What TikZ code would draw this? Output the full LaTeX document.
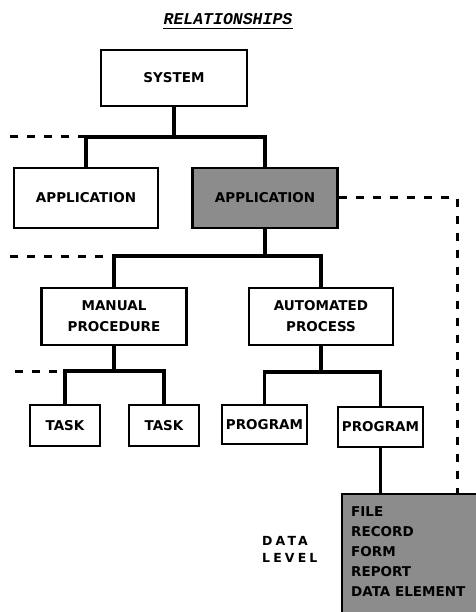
\documentclass[tikz,border=0pt]{standalone}
\usepackage{fontspec}
\setmainfont{DejaVu Sans}
\newfontfamily\titlefont{Liberation Mono}
\usetikzlibrary{positioning}

\begin{document}
\begin{tikzpicture}[x=1pt,y=-1pt]
    %
    % `block' is used for the plain boxes, `shaded' for the grey ones.
    % `link' is the solid tree line, `dashlink' the dashed one.
    \tikzstyle{block} = [draw,line width=2.4pt,fill=white,inner sep=0pt,align=center,font=\fontsize{13.5}{21}\selectfont\bfseries]
    \tikzstyle{shaded} = [block,fill=black!45]
    \tikzstyle{link} = [line width=3.8pt]
    \tikzstyle{dashlink} = [line width=3pt,dash pattern=on 8pt off 9pt]
    \useasboundingbox (0,0) rectangle (475,612);
    %
    % Title
    \node[inner sep=0pt,font=\titlefont\bfseries\itshape\fontsize{16.5}{18}\selectfont] (title) at (228,19) {RELATIONSHIPS};
    \draw[line width=1.4pt] ([yshift=-4pt]title.south west) -- ([yshift=-4pt]title.south east);
    %
    % System
    \node[block,minimum width=146pt,minimum height=56pt] (system) at (174,78) {SYSTEM};
    %
    % Applications
    \node[block,minimum width=144pt,minimum height=60pt] (app1) at (86,198) {APPLICATION};
    \node[shaded,minimum width=145pt,minimum height=60pt] (app2) at (265,198) {APPLICATION};
    \coordinate (bus1) at (174,137);
    \coordinate (edge1) at (10,137);
    \draw[link] (system.south) -- (bus1);
    \draw[link] (app1.north) |- (bus1) -| (app2.north);
    \draw[dashlink] (edge1) -- (app1.north |- bus1);
    %
    % Procedure and process
    \node[block,minimum width=145pt,minimum height=57pt] (manual) at (114,316.5) {MANUAL\\PROCEDURE};
    \node[block,minimum width=144pt,minimum height=57pt] (auto) at (321,316.5) {AUTOMATED\\PROCESS};
    \coordinate (bus2) at (265,256);
    \coordinate (edge2) at (10,256);
    \draw[link] (app2.south) -- (bus2);
    \draw[link] (manual.north) |- (bus2) -| (auto.north);
    \draw[dashlink] (edge2) -- (manual.north |- bus2);
    %
    % Tasks
    \node[block,minimum width=70pt,minimum height=41pt] (task1) at (65,425.5) {TASK};
    \node[block,minimum width=70pt,minimum height=41pt] (task2) at (164,425.5) {TASK};
    \coordinate (bus3) at (114,371);
    \coordinate (edge3) at (15,371);
    \draw[link] (manual.south) -- (bus3);
    \draw[link] (task1.north) |- (bus3) -| (task2.north);
    \draw[dashlink] (edge3) -- (task1.north |- bus3);
    %
    % Programs
    \node[block,minimum width=85pt,minimum height=39pt] (prog1) at (264.5,424.5) {PROGRAM};
    \node[block,minimum width=85pt,minimum height=40pt] (prog2) at (380.5,427) {PROGRAM};
    \coordinate (bus4) at (321,372);
    \draw[link] (auto.south) -- (bus4);
    \draw[link] (prog1.north) |- (bus4) -| (prog2.north);
    %
    % Data level
    \node[shaded,anchor=north west,minimum width=140pt,minimum height=125pt] (data) at (341,493) {};
    \node[anchor=north west,inner sep=0pt,align=left,font=\fontsize{13.5}{20}\selectfont\bfseries] (items) at (351,506) {FILE\\RECORD\\FORM\\REPORT\\DATA ELEMENT};
    \node[anchor=north west,inner sep=0pt,align=left,font=\fontsize{12.5}{17}\selectfont\bfseries\addfontfeature{LetterSpace=25}] (level) at (262,536) {DATA\\LEVEL};
    \draw[link] (prog2.south) -- (prog2.south |- data.north);
    \coordinate (corner) at (457,198);
    \draw[dashlink] (app2.east) -- (corner) -- (corner |- data.north);
    %
\end{tikzpicture}
\end{document}
